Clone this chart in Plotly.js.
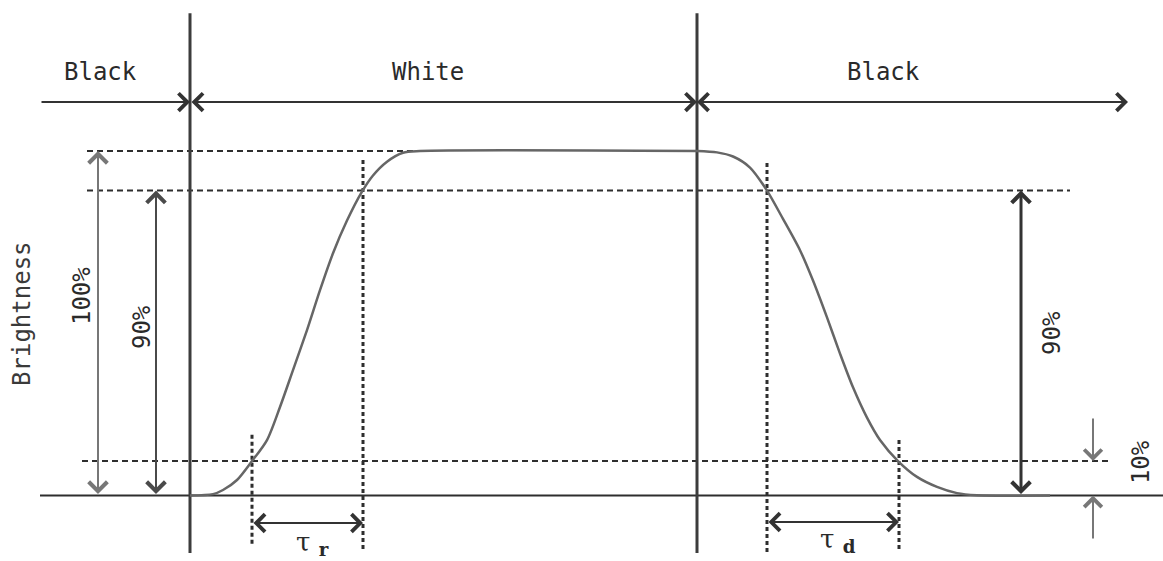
<!DOCTYPE html>
<html>
<head>
<meta charset="utf-8">
<script src="https://cdn.plot.ly/plotly-3.0.1.min.js"></script>
<style>html,body{margin:0;padding:0;background:#fff;}#chart{width:1163px;height:561px;}</style>
</head>
<body>
<div id="chart"></div>
<script>
// ---- data (time in arbitrary units, brightness in %) ----
const phaseLabels = ['Black', 'White', 'Black'];
const timelineStart = 40;
const transitionTimes = [190, 697];      // black->white, white->black
const timelineEnd = 1128;

const levelLabels = ['100%', '90%', '10%'];
const levelValues = [100, 88.5, 10];     // as drawn in the picture

// rising edge (black -> white)
const riseTime = [190, 213, 223, 237, 252, 267, 280, 293, 307, 320, 333, 347, 362, 373, 387, 403, 420, 697];
const riseBright = [0, 0.4, 1.6, 4.5, 10, 16.1, 25.7, 36.4, 48.0, 59.6, 70.3, 79.8, 88.2, 92.9, 96.9, 99.5, 100, 100];
// falling edge (white -> black)
const fallTime = [697, 717, 733, 750, 767, 783, 800, 813, 827, 840, 853, 867, 880, 898, 917, 937, 957, 977, 1050];
const fallBright = [100, 99.6, 98.4, 95.2, 88.5, 80.3, 71.2, 62.4, 51.7, 41.2, 31.4, 22.6, 16.1, 10, 5.4, 2.5, 0.7, 0.1, 0];

const tauR = [252, 363];   // 10% -> 90% on rise
const tauD = [767, 899];   // 90% -> 10% on fall
const tauLabels = ['τ <sub><b>r</b></sub>', 'τ <sub><b>d</b></sub>'];
const axisLabel = 'Brightness';

// ---- drawing ----
const DARK = '#2e2e2e', GRAY = '#777';
const topY = 114.2, vTop = 140, vBot = -16.7;
const traces = [];
function line(xs, ys, color, width, dash, smooth) {
  traces.push({x: xs, y: ys, mode: 'lines', type: 'scatter', hoverinfo: 'skip',
    line: {color: color, width: width, dash: dash || 'solid',
      shape: smooth ? 'spline' : 'linear', smoothing: smooth ? 0.8 : undefined}});
}
// baseline
line([timelineStart, 1163], [0, 0], DARK, 2);
// level dashed lines
line([87, 430], [levelValues[0], levelValues[0]], DARK, 2, '6px,4px');
line([87, 1070], [levelValues[1], levelValues[1]], DARK, 2, '6px,4px');
line([82, 1112], [levelValues[2], levelValues[2]], DARK, 2, '6px,4px');
// transition vertical lines
transitionTimes.forEach(t => line([t, t], [vTop, vBot], '#3c3c3c', 3));
// dotted verticals for tau
line([tauR[0], tauR[0]], [17.6, -14.9], DARK, 3, '4px,3px');
line([tauR[1], tauR[1]], [97.4, -16.1], DARK, 3, '4px,3px');
line([tauD[0], tauD[0]], [96.5, -16.7], DARK, 3, '4px,3px');
line([tauD[1], tauD[1]], [16.1, -16.1], DARK, 3, '4px,3px');
// response curve
line(riseTime, riseBright, '#666', 2.5, null, true);
line(fallTime, fallBright, '#666', 2.5, null, true);

// arrows
const ann = [];
function arrow(x0, y0, x1, y1, both, color, w, size) {
  ann.push({x: x1, y: y1, ax: x0, ay: y0, xref: 'x', yref: 'y', axref: 'x', ayref: 'y',
    text: '', showarrow: true, arrowhead: 4, startarrowhead: 4,
    arrowside: both ? 'end+start' : 'end', arrowsize: size || 1.7, startarrowsize: size || 1.7,
    arrowwidth: w || 2, arrowcolor: color || DARK, standoff: 0, startstandoff: 0});
}
arrow(timelineStart, topY, transitionTimes[0], topY, false, '#333', 2);
arrow(transitionTimes[0], topY, transitionTimes[1], topY, true, '#333', 2);
arrow(transitionTimes[1], topY, timelineEnd, topY, false, '#333', 2);
arrow(timelineEnd, topY, transitionTimes[1], topY, false, '#333', 2);
// vertical level arrows
arrow(98, 0, 98, levelValues[0], true, GRAY, 2, 1.8);
arrow(156, 0, 156, levelValues[1], true, '#4a4a4a', 2, 1.8);
arrow(1021, 0, 1021, levelValues[1], true, '#333', 3, 1.2);
// 10% arrows
arrow(1093, 22.8, 1093, levelValues[2], false, GRAY, 2, 1.7);
arrow(1093, -12.9, 1093, 0, false, GRAY, 2, 1.7);
// tau arrows
arrow(tauR[0], -8.0, tauR[1], -8.0, true, '#333', 2, 1.7);
arrow(tauD[0], -7.7, tauD[1], -7.7, true, '#333', 2, 1.7);

// text
const F = 'DejaVu Sans Mono, monospace';
function txt(x, y, s, angle, size, family, color) {
  ann.push({x: x, y: y, xref: 'x', yref: 'y', text: s, showarrow: false, textangle: angle || 0,
    font: {family: family || F, size: size || 24, color: color || '#2a2a2a'}});
}
const phaseX = [100, 428, 883];
phaseLabels.forEach((p, i) => txt(phaseX[i], 122.9, p));
txt(22, 52.7, axisLabel, -90, 24, F, '#3a3a3a');
txt(82, 57.9, levelLabels[0], -90);
txt(142, 48.9, levelLabels[1], -90);
txt(1052, 47.2, levelLabels[1], -90);
txt(1141, 9.7, levelLabels[2], -90);
txt(312, -13.8, tauLabels[0], 0, 26, 'DejaVu Serif', '#2a2a2a');
txt(838, -13.2, tauLabels[1], 0, 26, 'DejaVu Serif', '#2a2a2a');

const layout = {
  width: 1163, height: 561, margin: {l: 0, r: 0, t: 0, b: 0},
  paper_bgcolor: '#fff', plot_bgcolor: '#fff', showlegend: false,
  xaxis: {range: [0, 1163], visible: false, fixedrange: true},
  yaxis: {range: [-19.01, 143.83], visible: false, fixedrange: true},
  annotations: ann
};
Plotly.newPlot('chart', traces, layout, {staticPlot: true, displayModeBar: false});
</script>
</body>
</html>
